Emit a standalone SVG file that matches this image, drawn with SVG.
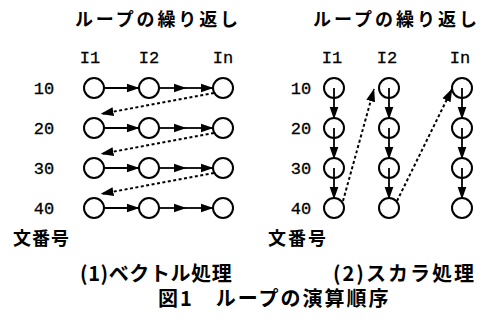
<svg xmlns="http://www.w3.org/2000/svg" width="485" height="323" viewBox="0 0 485 323">
<style>
.jp{font-family:"Noto Sans CJK JP","Noto Sans",sans-serif;font-weight:bold;font-size:18px;fill:#000}
.jb{font-family:"Noto Sans CJK JP","Noto Sans",sans-serif;font-weight:bold;font-size:20px;fill:#000}
.mono{font-family:"Liberation Mono","Courier New",monospace;font-size:17px;fill:#000;stroke:#000;stroke-width:0.3;text-anchor:middle}
.node circle{fill:#fff;stroke:#000;stroke-width:2}
.arr{stroke:#000;stroke-width:1.8;fill:none;marker-end:url(#ah)}
.dot{stroke:#000;stroke-width:2;stroke-dasharray:3 2.5;fill:none;marker-end:url(#ah)}
</style>
<defs>
<marker id="ah" markerUnits="userSpaceOnUse" markerWidth="13" markerHeight="10" viewBox="0 0 13 10" refX="12.5" refY="5" orient="auto">
<path d="M0,0.5 L13,5 L0,9.5 Z" fill="#000"/>
</marker>
</defs>
<rect width="485" height="323" fill="#fff"/>

<g id="titles">
<text class="jp" x="75" y="26" textLength="163" lengthAdjust="spacing">ループの繰り返し</text>
<text class="jp" x="313" y="26" textLength="164" lengthAdjust="spacing">ループの繰り返し</text>
<text class="mono" x="90" y="63">I1</text>
<text class="mono" x="149" y="63">I2</text>
<text class="mono" x="223" y="63">In</text>
<text class="mono" x="332" y="63">I1</text>
<text class="mono" x="387" y="63">I2</text>
<text class="mono" x="460" y="63">In</text>
<text class="mono" x="44" y="94">10</text>
<text class="mono" x="44" y="134">20</text>
<text class="mono" x="44" y="174">30</text>
<text class="mono" x="44" y="214">40</text>
<text class="mono" x="301" y="94">10</text>
<text class="mono" x="301" y="134">20</text>
<text class="mono" x="301" y="174">30</text>
<text class="mono" x="301" y="214">40</text>
<text class="jp" x="13" y="245" textLength="56" lengthAdjust="spacing">文番号</text>
<text class="jp" x="268" y="245" textLength="58" lengthAdjust="spacing">文番号</text>
<text class="jb" x="80" y="281" letter-spacing="0.6">(1)ベクトル処理</text>
<text class="jb" x="333" y="281" letter-spacing="2">(2)スカラ処理</text>
<text class="jb" x="158" y="306" letter-spacing="2">図1　ループの演算順序</text>
</g>

<g id="connectors">
<line class="arr" x1="104" y1="88" x2="139" y2="88"/>
<line class="arr" x1="159" y1="88" x2="186" y2="88"/>
<line class="arr" x1="186" y1="88" x2="213" y2="88"/>
<line class="arr" x1="104" y1="128" x2="139" y2="128"/>
<line class="arr" x1="159" y1="128" x2="186" y2="128"/>
<line class="arr" x1="186" y1="128" x2="213" y2="128"/>
<line class="arr" x1="104" y1="168" x2="139" y2="168"/>
<line class="arr" x1="159" y1="168" x2="186" y2="168"/>
<line class="arr" x1="186" y1="168" x2="213" y2="168"/>
<line class="arr" x1="104" y1="208" x2="139" y2="208"/>
<line class="arr" x1="159" y1="208" x2="186" y2="208"/>
<line class="arr" x1="186" y1="208" x2="213" y2="208"/>
<line class="dot" x1="214" y1="93" x2="101" y2="114"/>
<line class="dot" x1="214" y1="133" x2="101" y2="154"/>
<line class="dot" x1="214" y1="173" x2="101" y2="194"/>
</g>

<g id="nodes-left">
<g class="node" id="L-I1-10"><circle cx="94" cy="88" r="10"/></g>
<g class="node" id="L-I2-10"><circle cx="149" cy="88" r="10"/></g>
<g class="node" id="L-In-10"><circle cx="223" cy="88" r="10"/></g>
<g class="node" id="L-I1-20"><circle cx="94" cy="128" r="10"/></g>
<g class="node" id="L-I2-20"><circle cx="149" cy="128" r="10"/></g>
<g class="node" id="L-In-20"><circle cx="223" cy="128" r="10"/></g>
<g class="node" id="L-I1-30"><circle cx="94" cy="168" r="10"/></g>
<g class="node" id="L-I2-30"><circle cx="149" cy="168" r="10"/></g>
<g class="node" id="L-In-30"><circle cx="223" cy="168" r="10"/></g>
<g class="node" id="L-I1-40"><circle cx="94" cy="208" r="10"/></g>
<g class="node" id="L-I2-40"><circle cx="149" cy="208" r="10"/></g>
<g class="node" id="L-In-40"><circle cx="223" cy="208" r="10"/></g>
</g>

<g id="nodes-right">
<g class="node" id="R-I1-10"><circle cx="334" cy="88" r="10"/></g>
<g class="node" id="R-I2-10"><circle cx="389" cy="88" r="10"/></g>
<g class="node" id="R-In-10"><circle cx="462" cy="88" r="10"/></g>
<g class="node" id="R-I1-20"><circle cx="334" cy="128" r="10"/></g>
<g class="node" id="R-I2-20"><circle cx="389" cy="128" r="10"/></g>
<g class="node" id="R-In-20"><circle cx="462" cy="128" r="10"/></g>
<g class="node" id="R-I1-30"><circle cx="334" cy="168" r="10"/></g>
<g class="node" id="R-I2-30"><circle cx="389" cy="168" r="10"/></g>
<g class="node" id="R-In-30"><circle cx="462" cy="168" r="10"/></g>
<g class="node" id="R-I1-40"><circle cx="334" cy="208" r="10"/></g>
<g class="node" id="R-I2-40"><circle cx="389" cy="208" r="10"/></g>
<g class="node" id="R-In-40"><circle cx="462" cy="208" r="10"/></g>
</g>

<g id="connectors-right">
<line class="arr" x1="334" y1="88" x2="334" y2="119"/>
<line class="arr" x1="334" y1="128" x2="334" y2="159"/>
<line class="arr" x1="334" y1="168" x2="334" y2="199"/>
<line class="arr" x1="389" y1="88" x2="389" y2="119"/>
<line class="arr" x1="389" y1="128" x2="389" y2="159"/>
<line class="arr" x1="389" y1="168" x2="389" y2="199"/>
<line class="arr" x1="462" y1="88" x2="462" y2="119"/>
<line class="arr" x1="462" y1="128" x2="462" y2="159"/>
<line class="arr" x1="462" y1="168" x2="462" y2="199"/>
<line class="dot" x1="343" y1="201" x2="374" y2="89"/>
<line class="dot" x1="397" y1="201" x2="452" y2="89"/>
</g>
</svg>
